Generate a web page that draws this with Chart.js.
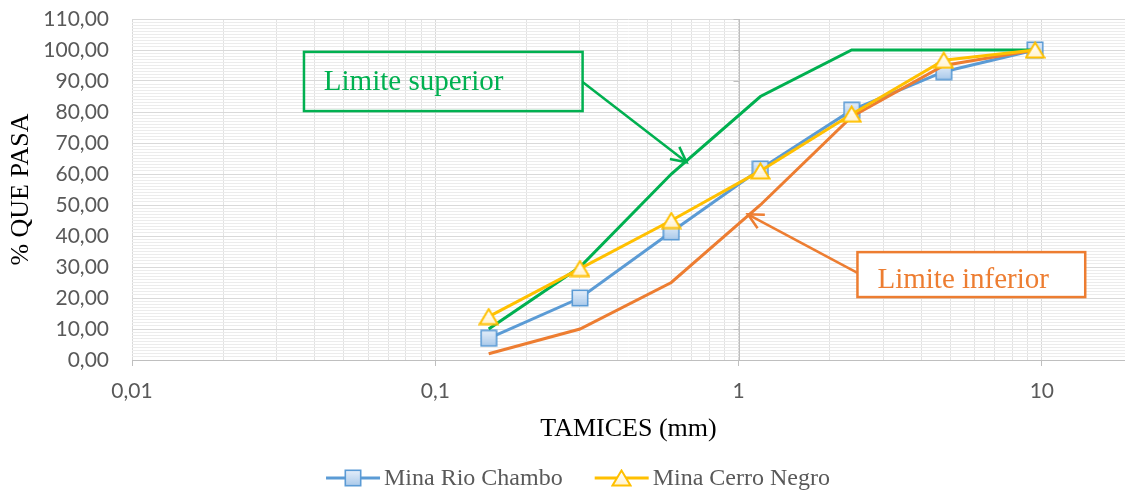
<!DOCTYPE html>
<html><head><meta charset="utf-8">
<script src="https://cdn.jsdelivr.net/npm/chart.js@4/dist/chart.umd.min.js"></script>
<style>html,body{margin:0;padding:0;background:#fff;}#c{display:block;}</style>
</head><body>
<canvas id="c" width="1125" height="492"></canvas>
<script>
// ---- data ----
const sieves = [0.15, 0.3, 0.6, 1.18, 2.36, 4.75, 9.5];
const rioChambo = [7, 20, 41.3, 61.6, 80.6, 93, 100];
const cerroNegro = [14, 29.5, 45, 61, 79.3, 96.7, 100];
const limiteSuperior = [10, 30, 60, 85, 100, 100, 100];
const limiteInferior = [2, 10, 25, 50, 78.5, 95, 100];
const xDecades = [0.01, 0.1, 1, 10];
const xMultiples = [1, 2, 3, 4, 5, 6, 7, 8, 9];
const yMajorTicks = [0, 10, 20, 30, 40, 50, 60, 70, 80, 90, 100, 110];
const legendSeries = ['Mina Rio Chambo', 'Mina Cerro Negro'];

// ---- layout/style config ----
const X_MIN = 0.01, X_MAX = 18.8, Y_MIN = 0, Y_MAX = 110;
const annotations = [
  {text: 'Limite superior', color: '#00B050', fill: null,
   box: {x0: 0.0369, x1: 0.306, y0: 99.4, y1: 80.3}, textAt: {x: 0.0429, y: 87.1},
   from: {x: 0.306, y: 89.7}, to: {x: 0.674, y: 63.8}},
  {text: 'Limite inferior', color: '#ED7D31', fill: '#ffffff',
   box: {x0: 2.466, x1: 13.9, y0: 34.8, y1: 20.3}, textAt: {x: 2.87, y: 23.2},
   from: {x: 2.466, y: 28.1}, to: {x: 1.073, y: 47.0}}
];

function makeSquare() {
  const c = document.createElement('canvas'); c.width = 18; c.height = 18;
  const g = c.getContext('2d');
  const gr = g.createLinearGradient(0, 1, 0, 17);
  gr.addColorStop(0, '#e6effa'); gr.addColorStop(1, '#a9c9ea');
  g.fillStyle = gr; g.fillRect(1, 1, 16, 16);
  g.strokeStyle = '#5B9BD5'; g.lineWidth = 1.6; g.strokeRect(1.3, 1.3, 15.4, 15.4);
  return c;
}
function makeTriangle() {
  const c = document.createElement('canvas'); c.width = 21; c.height = 18;
  const g = c.getContext('2d');
  const gr = g.createLinearGradient(0, 2, 0, 16);
  gr.addColorStop(0, '#ffffff'); gr.addColorStop(1, '#fff3d0');
  g.beginPath(); g.moveTo(10.5, 1.5); g.lineTo(19.5, 16.5); g.lineTo(1.5, 16.5); g.closePath();
  g.fillStyle = gr; g.fill();
  g.strokeStyle = '#FFC000'; g.lineWidth = 2; g.lineJoin = 'miter'; g.stroke();
  return c;
}
const squareImg = makeSquare();
const triImg = makeTriangle();

const pts = arr => sieves.map((x, i) => ({x: x, y: arr[i]}));
const xTickValues = [];
xDecades.forEach(d => xMultiples.forEach(m => { const v = d * m; if (v <= X_MAX + 1e-9) xTickValues.push(m === 1 ? d : v); }));
const yTickValues = [];
for (let v = Y_MIN; v <= Y_MAX; v++) yTickValues.push(v);

const isDecade = v => xDecades.some(d => Math.abs(d - v) < d * 1e-6);
const zeroPad = s => { s.paddingTop = 0; s.paddingBottom = 0; s.paddingLeft = 0; s.paddingRight = 0; };

const annoPlugin = {
  id: 'extras',
  beforeDatasetsDraw(chart) {
    const {ctx, scales: {x, y}, chartArea} = chart;
    const px = Math.round(x.getPixelForValue(1)) + 0.5;
    ctx.save();
    ctx.strokeStyle = '#bfbfbf'; ctx.lineWidth = 1;
    ctx.beginPath(); ctx.moveTo(px, chartArea.top); ctx.lineTo(px, chartArea.bottom); ctx.stroke();
    yMajorTicks.forEach(v => {
      const py = Math.round(y.getPixelForValue(v)) + 0.5;
      ctx.beginPath(); ctx.moveTo(px - 6, py); ctx.lineTo(px, py); ctx.stroke();
    });
    ctx.restore();
  },
  afterDatasetsDraw(chart) {
    const {ctx, scales: {x, y}} = chart;
    ctx.save();
    annotations.forEach(a => {
      const bx0 = x.getPixelForValue(a.box.x0), bx1 = x.getPixelForValue(a.box.x1);
      const by0 = y.getPixelForValue(a.box.y0), by1 = y.getPixelForValue(a.box.y1);
      ctx.strokeStyle = a.color;
      const fx = x.getPixelForValue(a.from.x), fy = y.getPixelForValue(a.from.y);
      const tx = x.getPixelForValue(a.to.x), ty = y.getPixelForValue(a.to.y);
      ctx.lineWidth = 2.5;
      ctx.beginPath(); ctx.moveTo(fx, fy); ctx.lineTo(tx, ty); ctx.stroke();
      const ang = Math.atan2(fy - ty, fx - tx);
      const L = 17, h = 27 * Math.PI / 180;
      ctx.beginPath();
      ctx.moveTo(tx + L * Math.cos(ang + h), ty + L * Math.sin(ang + h));
      ctx.lineTo(tx, ty);
      ctx.lineTo(tx + L * Math.cos(ang - h), ty + L * Math.sin(ang - h));
      ctx.stroke();
      if (a.fill) { ctx.fillStyle = a.fill; ctx.fillRect(bx0, by0, bx1 - bx0, by1 - by0); }
      ctx.lineWidth = 2.5;
      ctx.strokeRect(bx0, by0, bx1 - bx0, by1 - by0);
      ctx.fillStyle = a.color;
      ctx.font = '29px "Liberation Serif"';
      ctx.textBaseline = 'alphabetic'; ctx.textAlign = 'left';
      ctx.fillText(a.text, x.getPixelForValue(a.textAt.x), y.getPixelForValue(a.textAt.y));
    });
    ctx.restore();
  },
  afterDraw(chart) {
    const ctx = chart.ctx;
    const items = legendSeries.map(l => chart.data.datasets.find(d => d.label === l));
    ctx.save();
    ctx.font = '24px "Liberation Serif"';
    const lineLen = 54, gapText = 4, gapItems = 32;
    const widths = items.map(d => lineLen + gapText + ctx.measureText(d.label).width);
    const total = widths.reduce((s, w) => s + w, 0) + gapItems * (items.length - 1);
    let cx = 578 - total / 2;
    const cy = 478;
    items.forEach((d, i) => {
      ctx.strokeStyle = d.borderColor; ctx.lineWidth = 3;
      ctx.beginPath(); ctx.moveTo(cx, cy); ctx.lineTo(cx + lineLen, cy); ctx.stroke();
      const img = d.pointStyle;
      ctx.drawImage(img, Math.round(cx + lineLen / 2 - img.width / 2), Math.round(cy - img.height / 2));
      ctx.fillStyle = '#595959'; ctx.textBaseline = 'middle'; ctx.textAlign = 'left';
      ctx.fillText(d.label, cx + lineLen + gapText, cy + 1);
      cx += widths[i] + gapItems;
    });
    ctx.restore();
  }
};

const base = {fill: false, tension: 0, borderWidth: 3, pointRadius: 0, pointHoverRadius: 0};
new Chart(document.getElementById('c'), {
  type: 'line',
  data: {
    datasets: [
      Object.assign({}, base, {label: 'Mina Cerro Negro', data: pts(cerroNegro), borderColor: '#FFC000', backgroundColor: '#FFC000', pointStyle: triImg, pointRadius: 9, order: 0}),
      Object.assign({}, base, {label: 'Limite superior', data: pts(limiteSuperior), borderColor: '#00B050', backgroundColor: '#00B050', order: 1}),
      Object.assign({}, base, {label: 'Limite inferior', data: pts(limiteInferior), borderColor: '#ED7D31', backgroundColor: '#ED7D31', order: 2}),
      Object.assign({}, base, {label: 'Mina Rio Chambo', data: pts(rioChambo), borderColor: '#5B9BD5', backgroundColor: '#5B9BD5', pointStyle: squareImg, pointRadius: 9, order: 3})
    ]
  },
  options: {
    responsive: false, animation: false, devicePixelRatio: 1,
    layout: {autoPadding: false, padding: {left: 0, right: 0, top: 19, bottom: 0}},
    plugins: {legend: {display: false}, tooltip: {enabled: false}},
    events: [],
    scales: {
      x: {
        type: 'logarithmic', min: X_MIN, max: X_MAX,
        afterBuildTicks: s => { s.ticks = xTickValues.map(v => ({value: v, major: isDecade(v)})); },
        afterFit: s => { s.height = 132; zeroPad(s); },
        ticks: {
          autoSkip: false, maxRotation: 0, minRotation: 0, padding: 13,
          color: '#595959', font: {family: 'Lato', size: 21},
          callback: v => isDecade(v) ? String(v).replace('.', ',') : ''
        },
        grid: {
          color: c => (c.tick && isDecade(c.tick.value)) ? '#d9d9d9' : '#e2e2e2',
          tickColor: c => (c.tick && isDecade(c.tick.value)) ? '#bfbfbf' : 'rgba(0,0,0,0)',
          tickLength: 6, drawTicks: true
        },
        border: {display: true, color: '#bfbfbf', width: 1},
        title: {display: true, text: 'TAMICES (mm)', color: '#000', font: {family: 'Liberation Serif', size: 26}, padding: {top: 0, bottom: 47}}
      },
      y: {
        type: 'linear', min: Y_MIN, max: Y_MAX,
        afterBuildTicks: s => { s.ticks = yTickValues.map(v => ({value: v})); },
        afterFit: s => { s.width = 132; zeroPad(s); },
        ticks: {
          autoSkip: false, padding: 23, color: '#595959', font: {family: 'Lato', size: 21},
          callback: v => yMajorTicks.includes(v) ? v.toFixed(2).replace('.', ',') : ''
        },
        grid: {
          color: c => (c.tick && yMajorTicks.includes(c.tick.value)) ? '#d9d9d9' : '#ececec',
          drawTicks: false
        },
        border: {display: false},
        title: {display: true, text: '% QUE PASA', color: '#000', font: {family: 'Liberation Serif', size: 26}, padding: {top: 6, bottom: 0}}
      }
    }
  },
  plugins: [annoPlugin]
});
</script>
</body></html>
